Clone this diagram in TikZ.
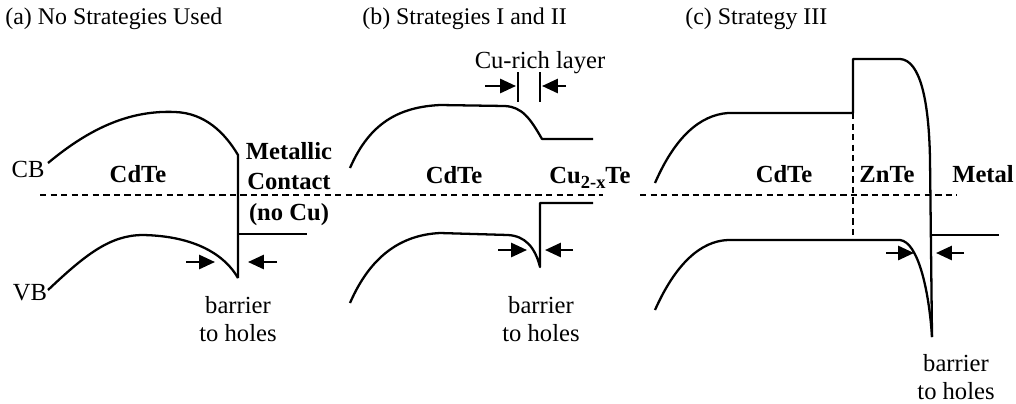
\documentclass[tikz,border=0pt]{standalone}
\usepackage{fontspec}
\setmainfont{Liberation Serif}
\usepackage{tikz}
\usetikzlibrary{arrows.meta}

\tikzset{
  band/.style={line width=1.3pt, line join=round},
  fermi/.style={line width=0.8pt, dash pattern=on 3.6pt off 2.4pt},
  lbl/.style={font=\fontsize{14}{16}\selectfont, inner sep=0pt, anchor=base},
  mat/.style={lbl, font=\fontsize{14}{17.6}\selectfont\bfseries},
  ttl/.style={font=\fontsize{13.6}{16}\selectfont, inner sep=0pt, anchor=base west},
  barr/.style={line width=1.3pt, -{Triangle[length=9pt, width=8pt]}}
}

\begin{document}
\begin{tikzpicture}[x=0.02cm, y=-0.02cm]
    \useasboundingbox (0,0) rectangle (1016,403);

    % titles
    \node[ttl] (ta) at (5,24) {(a) No Strategies Used};
    \node[ttl] (tb) at (362,24) {(b) Strategies I and II};
    \node[ttl] (tc) at (685,24) {(c) Strategy III};

    % Fermi level
    \draw[fermi] (40,195) -- (603,195);
    \draw[fermi] (640,195) -- (957,195);

    % (a) no strategies
    \draw[band] (48,163) .. controls (90,128) and (130,110) .. (175,112)
      .. controls (205,113) and (225,133) .. (238,155) -- (238,278);
    \draw[band] (48,290) .. controls (85,255) and (110,235) .. (143,235)
      .. controls (195,236) and (225,255) .. (238,278);
    \draw[band] (238,234) -- (307,234);
    \node[lbl] (cb) at (28,177) {CB};
    \node[lbl] (vb) at (30,300) {VB};
    \node[mat] (cdtea) at (138,182) {CdTe};
    \node[mat, align=center, anchor=center] (meta) at (289,184)
      {Metallic\\Contact\\(no Cu)};
    \coordinate (a1) at (186,262);
    \coordinate (a2) at (215,262);
    \coordinate (a3) at (277,262);
    \coordinate (a4) at (248,262);
    \draw[barr] (a1) -- (a2);
    \draw[barr] (a3) -- (a4);
    \node[lbl, align=center, anchor=north] (hola) at (238,296) {barrier\\to holes};

    % (b) strategies I and II
    \draw[band] (350,168) .. controls (370,122) and (400,107) .. (440,105)
      -- (505,106) .. controls (522,107) and (530,118) .. (542,139) -- (593,139);
    \draw[band] (350,303) .. controls (370,257) and (400,235) .. (440,233)
      -- (508,235) .. controls (525,236) and (535,247) .. (540,267)
      -- (540,203) -- (593,203);
    \node[lbl] (curich) at (540,68) {Cu-rich layer};
    \draw[line width=0.8pt] (518,72) -- (518,102);
    \draw[line width=0.8pt] (540,72) -- (540,102);
    \coordinate (c1) at (485,86);
    \coordinate (c2) at (516,86);
    \coordinate (c3) at (566,86);
    \coordinate (c4) at (542,86);
    \draw[barr] (c1) -- (c2);
    \draw[barr] (c3) -- (c4);
    \node[mat] (cdteb) at (454,183) {CdTe};
    \node[mat] (cute) at (590,183)
      {Cu\raisebox{-0.45ex}{\fontsize{10.5}{11}\selectfont 2-x}Te};
    \coordinate (b1) at (498,250);
    \coordinate (b2) at (527,250);
    \coordinate (b3) at (573,250);
    \coordinate (b4) at (545,250);
    \draw[barr] (b1) -- (b2);
    \draw[barr] (b3) -- (b4);
    \node[lbl, align=center, anchor=north] (holb) at (541,296) {barrier\\to holes};

    % (c) strategy III
    \draw[band] (655,183) .. controls (675,137) and (700,115) .. (728,113)
      -- (853,113) -- (853,59) -- (900,59)
      .. controls (920,60) and (929,100) .. (930,160) -- (932,337);
    \draw[band] (655,310) .. controls (675,265) and (700,241) .. (728,240)
      -- (900,240) .. controls (918,242) and (929,290) .. (932,337);
    \draw[band] (932,235) -- (999,235);
    \draw[fermi] (853,113) -- (853,240);
    \node[mat] (cdtec) at (784,182) {CdTe};
    \node[mat] (znte) at (887,182) {ZnTe};
    \node[mat] (metc) at (983,182) {Metal};
    \coordinate (d1) at (886,253);
    \coordinate (d2) at (914,253);
    \coordinate (d3) at (964,253);
    \coordinate (d4) at (936,253);
    \draw[barr] (d1) -- (d2);
    \draw[barr] (d3) -- (d4);
    \node[lbl, align=center, anchor=north] (holc) at (956,354) {barrier\\to holes};
\end{tikzpicture}
\end{document}
